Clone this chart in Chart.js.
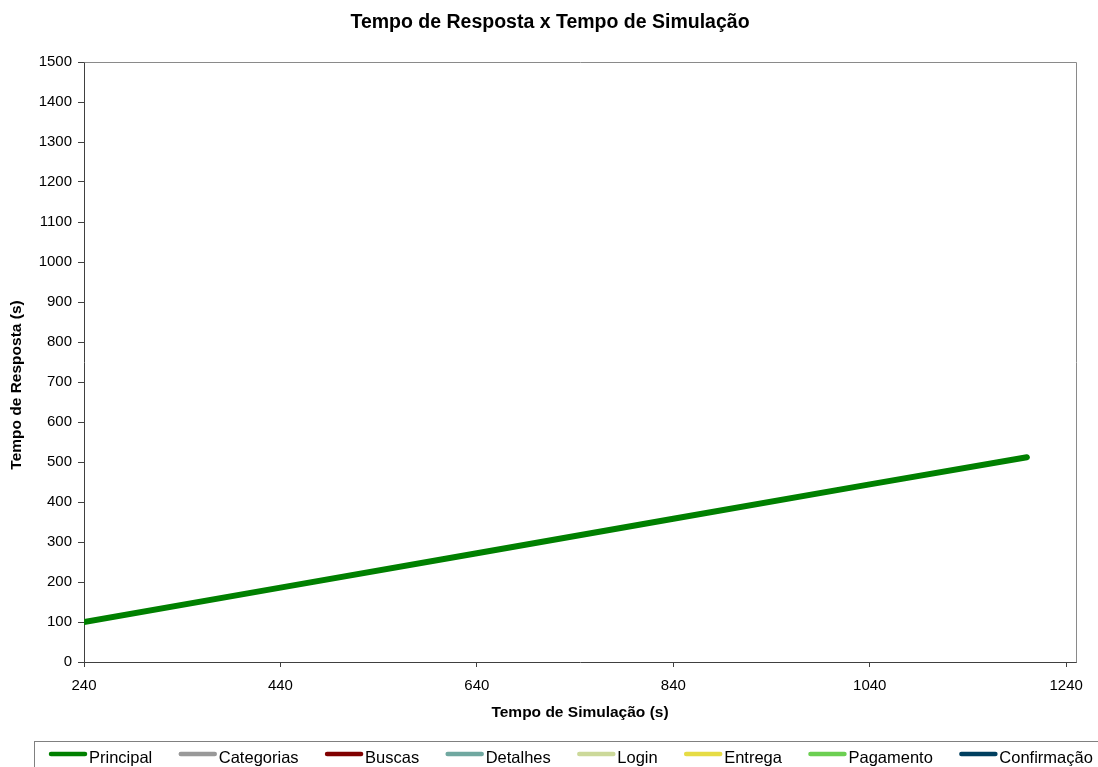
<!DOCTYPE html>
<html>
<head>
<meta charset="utf-8">
<title>Tempo de Resposta x Tempo de Simulação</title>
<script src="https://cdn.jsdelivr.net/npm/chart.js@4/dist/chart.umd.min.js"></script>
<style>
  html, body { margin: 0; padding: 0; background: #ffffff; }
  canvas { display: block; }
</style>
</head>
<body>
<canvas id="chart" width="1098" height="767"></canvas>
<script>
// Series names and colours
const seriesNames = ["Principal", "Categorias", "Buscas", "Detalhes", "Login", "Entrega", "Pagamento", "Confirmação"];
const seriesColors = ["#008000", "#999999", "#800000", "#70A8A0", "#CCD99A", "#E6DC45", "#6CCF52", "#003F5F"];

// Simulation time (s) and response time (s) for the "Principal" page
const principalTime = [240, 440, 640, 840, 1040, 1200];
const principalResponse = [100, 186, 272, 358, 444, 512];

// Axis ticks
const xTicks = [240, 440, 640, 840, 1040, 1240];
const yTicks = [0, 100, 200, 300, 400, 500, 600, 700, 800, 900, 1000, 1100, 1200, 1300, 1400, 1500];

const chartTitle = 'Tempo de Resposta x Tempo de Simulação';
const xTitle = 'Tempo de Simulação (s)';
const yTitle = 'Tempo de Resposta (s)';

const FONT = "'Liberation Sans', Arial, Helvetica, sans-serif";

const seriesData = {
  "Principal": principalTime.map((t, i) => ({ x: t, y: principalResponse[i] }))
};

const datasets = seriesNames.map((name, i) => ({
  label: name,
  data: seriesData[name] || [],
  borderColor: seriesColors[i],
  backgroundColor: seriesColors[i],
  borderWidth: 6,
  borderCapStyle: 'round',
  borderJoinStyle: 'round',
  pointRadius: 0,
  tension: 0,
  fill: false
}));

// Chart title, frame on top/right of the plot, vertical axis title and boxed legend
const decorations = {
  id: 'decorations',
  afterDraw(chart) {
    const ctx = chart.ctx;
    const a = chart.chartArea;
    ctx.save();
    ctx.strokeStyle = '#8a8a8a';
    ctx.lineWidth = 1;
    ctx.beginPath();
    ctx.moveTo(Math.round(a.left) + 0.5, Math.round(a.top) + 0.5);
    ctx.lineTo(Math.round(a.right) + 0.5, Math.round(a.top) + 0.5);
    ctx.lineTo(Math.round(a.right) + 0.5, Math.round(a.bottom) + 0.5);
    ctx.stroke();

    // chart title
    ctx.fillStyle = '#000000';
    ctx.font = "bold 19.5px " + FONT;
    ctx.textAlign = 'center';
    ctx.textBaseline = 'alphabetic';
    ctx.fillText(chartTitle, 550, 28);

    // vertical axis title
    ctx.font = "bold 15.5px " + FONT;
    ctx.textBaseline = 'middle';
    ctx.translate(17, 385);
    ctx.rotate(-Math.PI / 2);
    ctx.fillText(yTitle, 0, 0);
    ctx.restore();

    // legend
    ctx.save();
    ctx.strokeStyle = '#808080';
    ctx.lineWidth = 1;
    ctx.strokeRect(34.5, 741.5, 1100, 60);
    ctx.font = "16.5px " + FONT;
    ctx.textAlign = 'left';
    ctx.textBaseline = 'alphabetic';
    let sx = 49;
    chart.data.datasets.forEach((ds) => {
      ctx.strokeStyle = ds.borderColor;
      ctx.lineWidth = 4.5;
      ctx.lineCap = 'round';
      ctx.beginPath();
      ctx.moveTo(sx + 2, 754);
      ctx.lineTo(sx + 36, 754);
      ctx.stroke();
      ctx.fillStyle = '#000000';
      ctx.fillText(ds.label, sx + 40, 763);
      sx += 40 + ctx.measureText(ds.label).width + 26.5;
    });
    ctx.restore();
  }
};

new Chart(document.getElementById('chart'), {
  type: 'line',
  data: { datasets },
  plugins: [decorations],
  options: {
    responsive: false,
    animation: false,
    events: [],
    layout: { padding: { top: 62, right: 22, left: 0, bottom: 0 } },
    plugins: {
      legend: { display: false },
      tooltip: { enabled: false },
      title: { display: false }
    },
    scales: {
      x: {
        type: 'linear',
        min: 240,
        max: 1250,
        afterBuildTicks(scale) { scale.ticks = xTicks.map(v => ({ value: v })); },
        afterFit(scale) { scale.height = 105; },
        border: { display: true, color: '#404040', width: 1 },
        grid: { display: true, drawOnChartArea: false, drawTicks: true, tickLength: 5, color: '#404040' },
        ticks: {
          color: '#000000',
          font: { family: FONT, size: 15 },
          padding: 10,
          maxRotation: 0,
          autoSkip: false,
          callback: v => String(v)
        },
        title: {
          display: true,
          text: xTitle,
          color: '#000000',
          font: { family: FONT, size: 15.5, weight: 'bold' },
          padding: { top: 0, bottom: 45 }
        }
      },
      y: {
        type: 'linear',
        min: 0,
        max: 1500,
        afterBuildTicks(scale) { scale.ticks = yTicks.map(v => ({ value: v })); },
        afterFit(scale) { scale.width = 84; },
        border: { display: true, color: '#404040', width: 1 },
        grid: { display: true, drawOnChartArea: false, drawTicks: true, tickLength: 6, color: '#404040' },
        ticks: {
          color: '#000000',
          font: { family: FONT, size: 15 },
          padding: 6,
          autoSkip: false,
          callback: v => String(v)
        }
      }
    }
  }
});
</script>
</body>
</html>
